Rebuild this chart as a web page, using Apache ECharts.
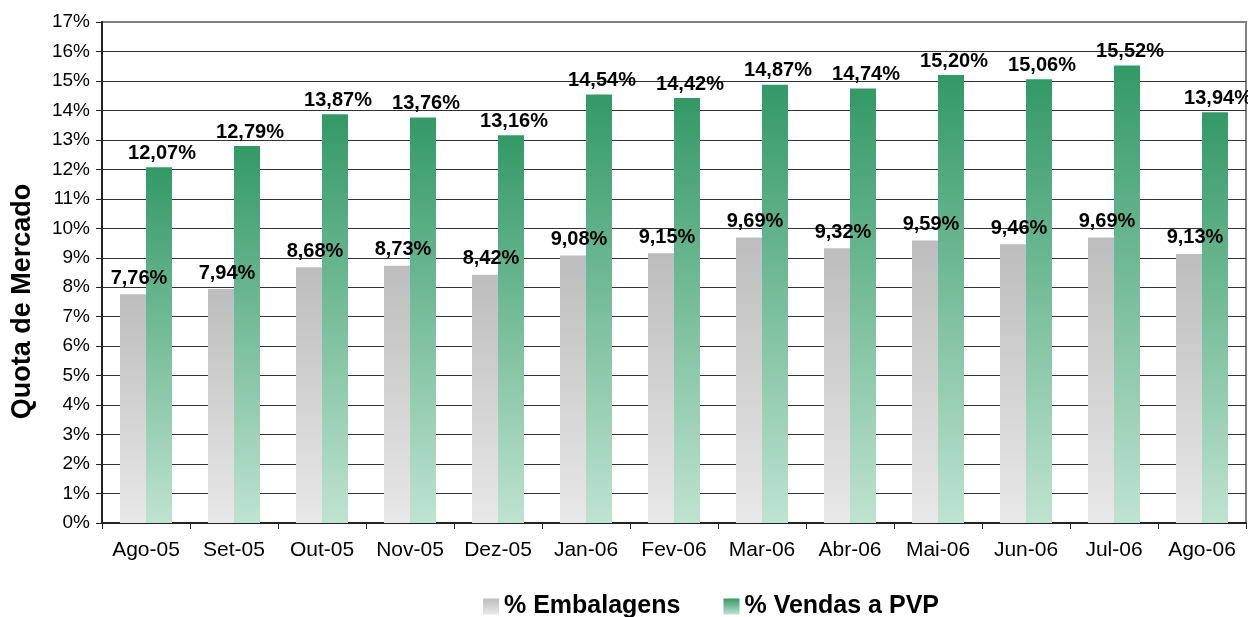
<!DOCTYPE html>
<html>
<head>
<meta charset="utf-8">
<script src="https://cdn.jsdelivr.net/npm/echarts@6/dist/echarts.min.js"></script>
<style>
  html, body { margin: 0; padding: 0; background: #fff; }
  #chart { width: 1248px; height: 617px; }
</style>
</head>
<body>
<div id="chart"></div>
<script>
// Quota de mercado
var months = ['Ago-05','Set-05','Out-05','Nov-05','Dez-05','Jan-06','Fev-06','Mar-06','Abr-06','Mai-06','Jun-06','Jul-06','Ago-06'];
var embalagens = [7.76, 7.94, 8.68, 8.73, 8.42, 9.08, 9.15, 9.69, 9.32, 9.59, 9.46, 9.69, 9.13];
var vendasPVP = [12.07, 12.79, 13.87, 13.76, 13.16, 14.54, 14.42, 14.87, 14.74, 15.20, 15.06, 15.52, 13.94];
var seriesNames = ['% Embalagens', '% Vendas a PVP'];

var font = '"Liberation Sans", Arial, sans-serif';

function grad(top, bottom) {
    return new echarts.graphic.LinearGradient(0, 0, 0, 1, [
        {offset: 0, color: top},
        {offset: 1, color: bottom}
    ]);
}

function pct(p) {
    return p.value.toFixed(2).replace('.', ',') + '%';
}

// 18 split lines, last one (17%) matches the grey border
var splitColors = [];
for (var i = 0; i < 17; i++) splitColors.push('#333');
splitColors.push('#808080');

var chart = echarts.init(document.getElementById('chart'));
var option = {
    animation: false,
    grid: {
        left: 102,
        right: 2,
        top: 22,
        bottom: 94,
        outerBoundsMode: 'none',
        containLabel: false,
        show: true,
        borderColor: '#808080',
        borderWidth: 2,
        backgroundColor: '#fff'
    },
    legend: {
        data: seriesNames,
        left: 478,
        top: 589,
        itemWidth: 16,
        itemHeight: 16,
        itemGap: 43,
        icon: 'rect',
        textStyle: {
            fontFamily: font,
            fontSize: 25,
            fontWeight: 'bold',
            color: '#000'
        }
    },
    xAxis: {
        type: 'category',
        data: months,
        axisLine: { lineStyle: { color: '#222', width: 2 } },
        axisTick: { show: true, length: 6, interval: 0, lineStyle: { color: '#222' } },
        axisLabel: {
            interval: 0,
            color: '#000',
            fontFamily: font,
            fontSize: 21,
            margin: 17
        }
    },
    yAxis: {
        type: 'value',
        min: 0,
        max: 17,
        interval: 1,
        name: 'Quota de Mercado',
        nameLocation: 'middle',
        nameGap: 66,
        nameTextStyle: {
            fontFamily: font,
            fontSize: 27,
            fontWeight: 'bold',
            color: '#000',
            padding: [0, 58, 0, 0]
        },
        axisLine: { show: true, lineStyle: { color: '#222', width: 2 } },
        axisTick: { show: true, length: 6, lineStyle: { color: '#222' } },
        axisLabel: {
            color: '#000',
            fontFamily: font,
            fontSize: 19,
            margin: 12,
            formatter: '{value}%'
        },
        splitLine: { lineStyle: { color: splitColors, width: 1 } }
    },
    series: [
        {
            name: seriesNames[0],
            type: 'bar',
            z: 3,
            data: embalagens,
            barWidth: 26,
            barGap: '0%',
            itemStyle: { color: grad('#bdbdbd', '#e8e8e8') },
            label: {
                show: true,
                position: 'top',
                distance: 6,
                offset: [6, 0],
                formatter: pct,
                fontFamily: font,
                fontSize: 20,
                fontWeight: 'bold',
                color: '#000'
            }
        },
        {
            name: seriesNames[1],
            type: 'bar',
            data: vendasPVP,
            barWidth: 26,
            barGap: '0%',
            itemStyle: { color: grad('#339966', '#bfe3d2') },
            label: {
                show: true,
                position: 'top',
                distance: 4,
                offset: [3, 0],
                formatter: pct,
                fontFamily: font,
                fontSize: 20,
                fontWeight: 'bold',
                color: '#000'
            }
        }
    ]
};
chart.setOption(option);
</script>
</body>
</html>
